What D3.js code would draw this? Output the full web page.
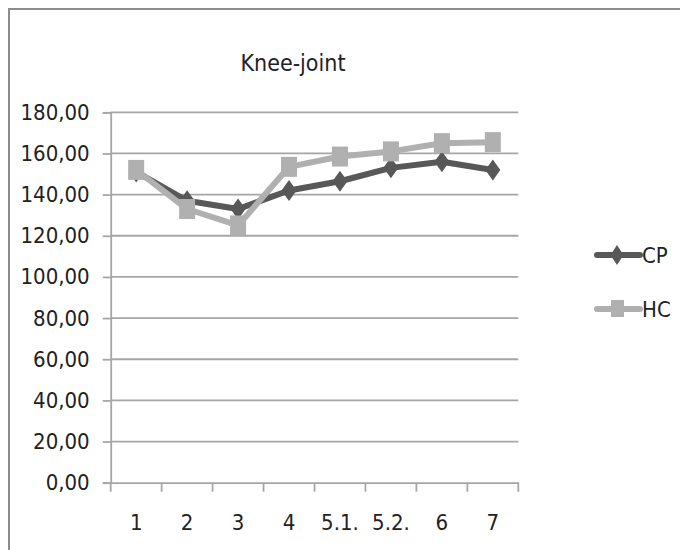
<!DOCTYPE html>
<html>
<head>
<meta charset="utf-8">
<script src="https://cdn.jsdelivr.net/npm/d3@7"></script>
<style>
  body { margin: 0; background: #fff; }
  text { font-family: "Liberation Sans Narrow", "DejaVu Sans Condensed", sans-serif; fill: #222; }
</style>
</head>
<body>
<svg id="chart" width="680" height="550"></svg>
<script>
const categories = ["1", "2", "3", "4", "5.1.", "5.2.", "6", "7"];
const seriesNames = ["CP", "HC"];
const cpValues = [151, 137, 133, 142, 146.5, 153, 156, 152];
const hcValues = [152, 133, 125, 153.5, 158.5, 161, 165, 165.5];
const yTicks = [0, 20, 40, 60, 80, 100, 120, 140, 160, 180];
const title = "Knee-joint";

const svg = d3.select("#chart");
const colors = { CP: "#585858", HC: "#b0b0b0" };
const gridColor = "#a6a6a6";
const fontFam = "Liberation Sans Narrow, DejaVu Sans Condensed, sans-serif";

// outer border
svg.append("rect").attr("x", 9).attr("y", 9).attr("width", 690).attr("height", 560)
  .attr("fill", "none").attr("stroke", "#8c8c8c").attr("stroke-width", 2);

const x = d3.scaleBand().domain(categories).range([110.7, 518.3]).paddingInner(0).paddingOuter(0);
const y = d3.scaleLinear().domain([0, 180]).range([482.7, 112.3]);

// gridlines
svg.append("g").selectAll("line").data(yTicks.filter(d => d > 0)).join("line")
  .attr("x1", 110.7).attr("x2", 518.3)
  .attr("y1", d => y(d)).attr("y2", d => y(d))
  .attr("stroke", gridColor).attr("stroke-width", 1.8);

// y axis
const yAxis = d3.axisLeft(y).tickValues(yTicks).tickSize(8).tickPadding(13)
  .tickFormat(d => d3.format(".2f")(d).replace(".", ","));
const gy = svg.append("g").attr("transform", "translate(110.7,0)").call(yAxis);
gy.select(".domain").attr("stroke", gridColor).attr("stroke-width", 1.8);
gy.selectAll(".tick line").attr("stroke", gridColor).attr("stroke-width", 1.8);
gy.selectAll(".tick text").attr("font-size", 22).attr("fill", "#222").attr("font-family", fontFam);

// x axis
const gx = svg.append("g").attr("transform", "translate(0," + y(0) + ")")
  .call(d3.axisBottom(x).tickSize(0).tickPadding(32));
gx.select(".domain").attr("stroke", gridColor).attr("stroke-width", 1.8);
gx.selectAll(".tick text").attr("font-size", 22).attr("fill", "#222").attr("font-family", fontFam);
// category boundary ticks
svg.append("g").selectAll("line").data(categories.concat(["__end"])).join("line")
  .attr("x1", (d, i) => i < categories.length ? x(d) : x.range()[1])
  .attr("x2", (d, i) => i < categories.length ? x(d) : x.range()[1])
  .attr("y1", y(0)).attr("y2", y(0) + 9)
  .attr("stroke", gridColor).attr("stroke-width", 1.8);

// title
svg.append("text").attr("x", 293).attr("y", 71).attr("text-anchor", "middle")
  .attr("font-size", 23).text(title);

const cx = d => x(d) + x.bandwidth() / 2;
const line = d3.line().x(d => cx(d.c)).y(d => y(d.v));

function diamond(px, py, w, h) {
  return `M${px},${py - h / 2}L${px + w / 2},${py}L${px},${py + h / 2}L${px - w / 2},${py}Z`;
}

const series = [
  { name: "CP", values: cpValues },
  { name: "HC", values: hcValues }
];

series.forEach(s => {
  const pts = categories.map((c, i) => ({ c, v: s.values[i] }));
  svg.append("path").datum(pts).attr("d", line)
    .attr("fill", "none").attr("stroke", colors[s.name]).attr("stroke-width", 6)
    .attr("stroke-linejoin", "round");
  if (s.name === "CP") {
    svg.append("g").selectAll("path").data(pts).join("path")
      .attr("d", d => diamond(cx(d.c), y(d.v), 15, 21))
      .attr("fill", colors.CP);
  } else {
    svg.append("g").selectAll("rect").data(pts).join("rect")
      .attr("x", d => cx(d.c) - 8).attr("y", d => y(d.v) - 10)
      .attr("width", 16).attr("height", 20)
      .attr("fill", colors.HC);
  }
});

// legend
const legendY = { CP: 255, HC: 309 };
seriesNames.forEach(n => {
  const ly = legendY[n];
  svg.append("line").attr("x1", 597).attr("x2", 640).attr("y1", ly).attr("y2", ly)
    .attr("stroke", colors[n]).attr("stroke-width", 6).attr("stroke-linecap", "round");
  if (n === "CP") {
    svg.append("path").attr("d", diamond(617, ly, 13, 20)).attr("fill", colors.CP);
  } else {
    svg.append("rect").attr("x", 611).attr("y", ly - 9).attr("width", 13).attr("height", 17).attr("fill", colors.HC);
  }
  svg.append("text").attr("x", 642).attr("y", ly + 8).attr("font-size", 22).text(n);
});
</script>
</body>
</html>
